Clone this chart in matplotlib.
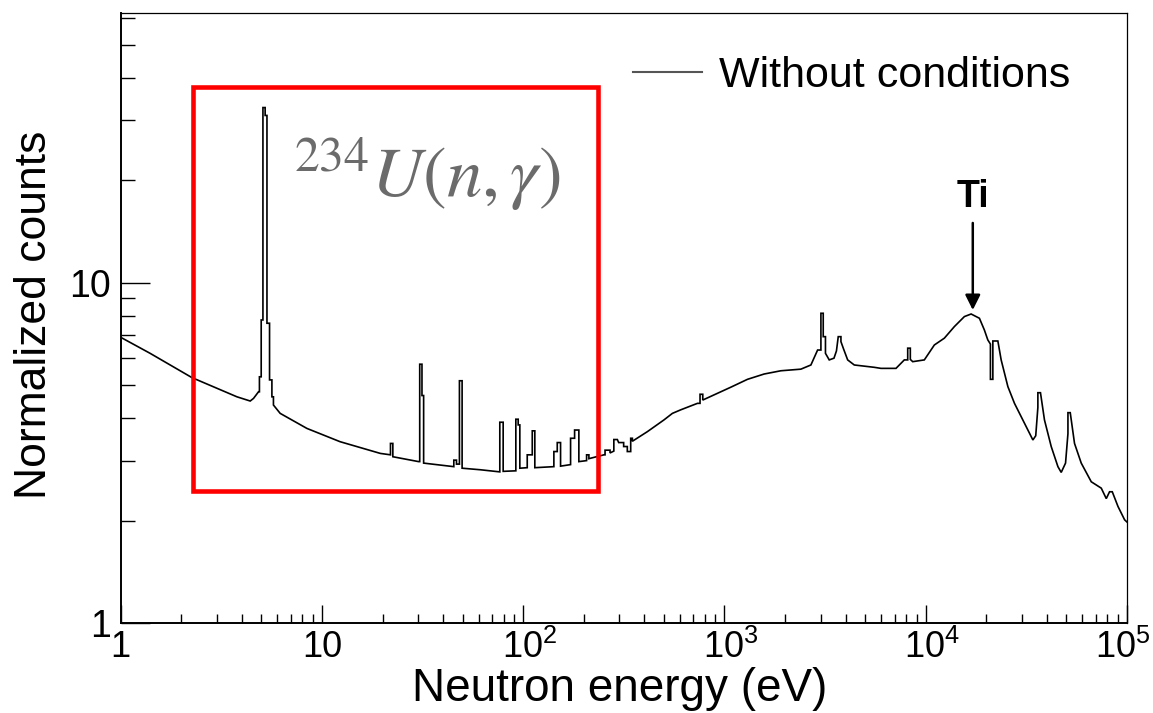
import matplotlib
matplotlib.use("Agg")
import matplotlib.pyplot as plt
from matplotlib.patches import Rectangle
from matplotlib.lines import Line2D
from matplotlib.ticker import FixedLocator, FixedFormatter, NullFormatter
from matplotlib.transforms import ScaledTranslation

# ---------------- data ----------------
energy_ev = [
    1.00, 1.40, 2.26, 3.78, 4.40, 4.57, 4.84, 4.89, 4.89, 4.99, 4.99, 5.09, 5.09,
    5.22, 5.22, 5.33, 5.33, 5.49, 5.49, 5.64, 5.64, 5.74, 5.74, 6.20, 8.42, 12.3,
    19.5, 21.9, 21.9, 22.5, 22.5, 30.2, 30.6, 30.6, 31.4, 31.4, 32.0, 32.0,
    45.2, 45.2, 46.6, 46.6, 48.2, 48.2, 49.7, 49.7, 61.3, 76.5, 76.5, 79.5, 79.5,
    91.9, 91.9, 94.4, 94.4, 96.2, 96.2, 104.7, 104.7, 110.9, 110.9, 114.2, 114.2,
    142.0, 142.0, 147.6, 147.6, 153.3, 153.3, 171.9, 171.9, 180.0, 180.0, 189.0, 189.0,
    206.5, 206.5, 212.0, 212.0, 251.8, 255.0, 255.0, 270.0, 270.0, 282.0, 282.0,
    293.6, 298.0, 315.5, 315.5, 329.0, 329.0, 342.0, 342.0, 348.6, 348.6,
    414.0, 500.0, 551.0, 606.0, 734.0, 756.0, 756.0, 780.0, 780.0, 888.0,
    1075.0, 1301.0, 1574.0, 1906.0, 2396.0, 2688.0, 2902.0, 3014.0, 3014.0,
    3095.0, 3095.0, 3175.0, 3175.0, 3315.0, 3500.0, 3600.0, 3675.0, 3790.0, 3790.0,
    3900.0, 4093.0, 4415.0, 5551.0, 5991.0, 7115.0, 7826.0, 8136.0, 8136.0,
    8383.0, 8383.0, 8616.0, 9840.0, 11035.0, 12375.0, 13877.0, 15560.0, 16806.0,
    18480.0, 19560.0, 20340.0, 20960.0, 20960.0, 21550.0, 21550.0, 22820.0,
    23700.0, 25590.0, 27600.0, 30950.0, 34070.0, 35200.0, 36070.0, 36070.0,
    37160.0, 38900.0, 42020.0, 45370.0, 47110.0, 49500.0, 50880.0, 50880.0,
    52240.0, 54860.0, 59240.0, 66440.0, 74500.0, 78890.0, 81900.0, 84500.0,
    90200.0, 97300.0, 100000.0,
]
counts = [
    6.91, 6.20, 5.26, 4.62, 4.49, 4.57, 4.78, 4.78, 5.29, 5.29, 7.77, 7.77, 32.7,
    32.7, 31.0, 31.0, 7.60, 7.60, 5.18, 5.18, 4.62, 4.62, 4.37, 4.13, 3.73, 3.41,
    3.15, 3.12, 3.37, 3.37, 3.08, 2.98, 2.98, 5.76, 5.76, 4.66, 4.66, 2.95,
    2.88, 3.01, 3.01, 2.93, 2.93, 5.15, 5.15, 2.85, 2.82, 2.78, 3.89, 3.89, 2.79,
    2.80, 3.97, 3.97, 3.82, 3.82, 2.85, 2.86, 3.12, 3.12, 3.67, 3.67, 2.86,
    2.88, 3.19, 3.19, 3.39, 3.39, 2.89, 2.92, 3.49, 3.49, 3.69, 3.69, 2.98,
    3.00, 3.12, 3.12, 3.04, 3.12, 3.12, 3.22, 3.22, 3.16, 3.20, 3.46,
    3.46, 3.39, 3.39, 3.30, 3.30, 3.19, 3.19, 3.49, 3.49, 3.42,
    3.65, 3.95, 4.13, 4.23, 4.42, 4.42, 4.70, 4.70, 4.52, 4.68,
    4.93, 5.20, 5.39, 5.51, 5.57, 5.73, 6.34, 6.34, 8.13,
    8.13, 6.94, 6.94, 6.20, 5.93, 6.00, 6.30, 6.94, 6.94, 6.71,
    6.40, 5.93, 5.73, 5.64, 5.60, 5.60, 5.93, 5.93, 6.42,
    6.42, 5.95, 5.86, 5.93, 6.56, 6.87, 7.43, 7.95, 8.09,
    7.86, 7.26, 6.79, 6.60, 5.20, 5.20, 6.74, 6.74,
    5.93, 4.95, 4.42, 3.86, 3.45, 3.55, 4.30, 4.75,
    4.75, 3.95, 3.30, 2.88, 2.77, 2.95, 3.60, 4.15,
    4.15, 3.37, 2.95, 2.60, 2.49, 2.32, 2.43, 2.43,
    2.20, 2.01, 1.98,
]
x_major_ticks = [1, 10, 100, 1000, 10000, 100000]
x_tick_labels = ["1", "10", "$10^{2}$", "$10^{3}$", "$10^{4}$", "$10^{5}$"]
y_major_ticks = [1, 10]
y_tick_labels = ["1", "10"]
legend_label = "Without conditions"
x_label = "Neutron energy (eV)"
y_label = "Normalized counts"
box_energy = [2.29, 234.0]
box_counts = [2.44, 37.6]
ti_peak = (17130.0, 8.31)
ti_text_pos = (17130.0, 17.9)

# ---------------- style ----------------
plt.rcParams["font.family"] = ["Liberation Sans", "DejaVu Sans"]
plt.rcParams["mathtext.fontset"] = "custom"
plt.rcParams["mathtext.rm"] = "Liberation Sans"
plt.rcParams["mathtext.it"] = "Liberation Sans:italic"
plt.rcParams["mathtext.bf"] = "Liberation Sans:bold"

W, H = 1153, 713
fig = plt.figure(figsize=(W / 100, H / 100), dpi=100)
ax = fig.add_axes([120.7 / W, 1 - 623 / H, (1127 - 120.7) / W, (623 - 13) / H])

ax.plot(energy_ev, counts, color="black", lw=1.2, solid_joinstyle="miter")
ax.set_xscale("log")
ax.set_yscale("log")
ax.set_xlim(1, 1e5)
ax.set_ylim(1, 62)

ax.xaxis.set_major_locator(FixedLocator(x_major_ticks))
ax.xaxis.set_major_formatter(FixedFormatter(x_tick_labels))
ax.xaxis.set_minor_locator(FixedLocator([m * d for d in x_major_ticks[:-1] for m in range(2, 10)]))
ax.xaxis.set_minor_formatter(NullFormatter())
ax.yaxis.set_major_locator(FixedLocator(y_major_ticks))
ax.yaxis.set_major_formatter(FixedFormatter(y_tick_labels))
ax.yaxis.set_minor_locator(FixedLocator([2, 3, 4, 5, 6, 7, 8, 9, 20, 30, 40, 50, 60]))
ax.yaxis.set_minor_formatter(NullFormatter())

ax.xaxis.set_tick_params(which="major", direction="in", length=13, width=1.0, labelsize=26, pad=5,
                         top=False)
ax.xaxis.set_tick_params(which="minor", direction="in", length=6.5, width=1.0, top=False)
ax.yaxis.set_tick_params(which="major", direction="in", length=21, width=1.0, labelsize=27, pad=7,
                         right=False)
ax.yaxis.set_tick_params(which="minor", direction="in", length=10, width=1.0, right=False)

for side in ["left", "bottom"]:
    ax.spines[side].set_linewidth(1.4)
for side in ["top", "right"]:
    ax.spines[side].set_linewidth(0.9)

# shift the power-of-ten labels slightly, as in the reference
shifts_px = [0, 0, 6, 6, 6, -4]
for lab, dx in zip(ax.xaxis.get_majorticklabels(), shifts_px):
    lab.set_transform(lab.get_transform() + ScaledTranslation(dx / 100, 0, fig.dpi_scale_trans))

# red box
rect = Rectangle((box_energy[0], box_counts[0]), box_energy[1] - box_energy[0],
                 box_counts[1] - box_counts[0], fill=False, edgecolor="#ff0000", lw=3.3, zorder=5)
ax.add_patch(rect)

# 234U(n,gamma) label
ax.text(7.2, 17.86, r"$^{234}U(n,\gamma)$", color="#6b6b6b", fontsize=51,
        math_fontfamily="stix", ha="left", va="baseline")

# Ti annotation
ax.annotate("Ti", xy=ti_peak, xytext=ti_text_pos, ha="center", va="center",
            fontsize=27, fontweight="bold",
            arrowprops=dict(arrowstyle="-|>,head_length=0.9,head_width=0.45", color="black",
                            lw=1.8, shrinkA=4, shrinkB=0, mutation_scale=10))

# legend
handle = Line2D([], [], color="#555555", lw=1.5)
ax.legend([handle], [legend_label], loc="center left",
          bbox_to_anchor=((633 - 120.7) / (1127 - 120.7), (623 - 76) / (623 - 13)),
          frameon=False, fontsize=31, handlelength=1.6, handletextpad=0.4,
          borderpad=0, borderaxespad=0)

# axis titles
fig.text(620 / W, 1 - 689 / H, x_label, ha="center", va="center", fontsize=33)
fig.text(35 / W, 1 - 315 / H, y_label, ha="center", va="center", fontsize=32, rotation=90)

fig.savefig("out.png", dpi=100)
